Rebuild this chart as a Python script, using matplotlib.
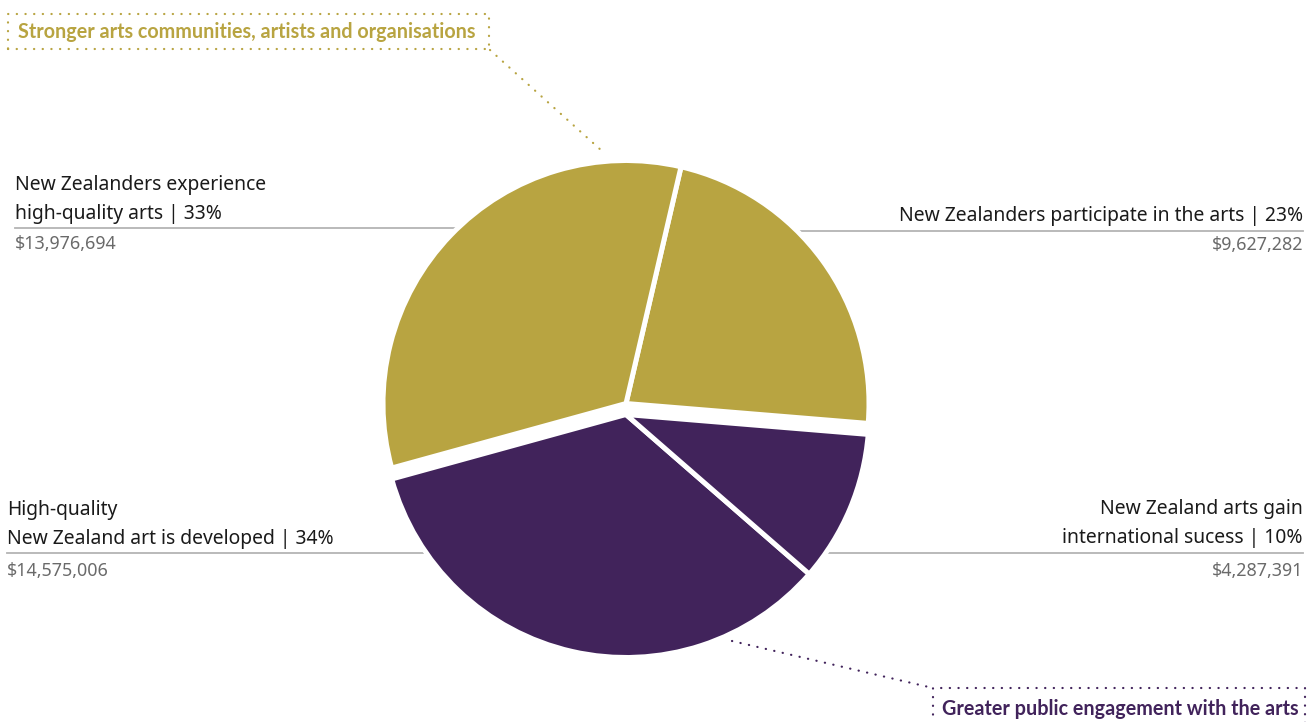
#!/usr/bin/env python3
"""Arts funding by outcome: grouped pie with call-out labels."""

import matplotlib.pyplot as plt
from matplotlib.patches import Rectangle

# Funding by outcome (NZD)
labels = [
    "New Zealanders participate in the arts",
    "New Zealanders experience\nhigh-quality arts",
    "High-quality\nNew Zealand art is developed",
    "New Zealand arts gain\ninternational sucess",
]
amounts = [9627282, 13976694, 14575006, 4287391]
groups = ["Stronger arts communities, artists and organisations",
          "Greater public engagement with the arts"]
group_members = [[0, 1], [2, 3]]

GOLD = "#B8A441"
PURPLE = "#41235B"
TEXT = "#1a1a1a"
MUTED = "#6a6a6a"
RULE = "#b4b4b4"

W, H = 1307, 722
plt.rcParams["font.family"] = ["Noto Sans", "DejaVu Sans"]

fig = plt.figure(figsize=(W / 100, H / 100), dpi=100)
ax = fig.add_axes([0, 0, 1, 1])


def Y(y):
    # layout measured from the top edge
    return H - y


total = sum(amounts)
fracs = [a / total for a in amounts]

cx, cy, radius = 626, 409, 243
shift = 5.5
start = -4.7

# rules under the pie, the pie covers their inner ends
rules = [(15, 600, 228), (650, 1303, 231), (7, 600, 553), (650, 1303, 553)]
for x0, x1, y in rules:
    ax.plot([x0, x1], [Y(y), Y(y)], color=RULE, lw=1.3, zorder=1)

# two pies, one per group, nudged apart
angle = start
for members, color, dy in zip(group_members, [GOLD, PURPLE], [-shift, shift]):
    part = [fracs[i] for i in members]
    ax.pie(part, startangle=angle, normalize=False, radius=radius,
           center=(cx, Y(cy + dy)), colors=[color] * len(part),
           wedgeprops=dict(edgecolor="white", linewidth=3.6), frame=True)
    angle += 360 * sum(part)

ax.set_xlim(0, W)
ax.set_ylim(0, H)
ax.set_aspect("equal")
ax.axis("off")

fs_label = 13.9
fs_amt = 12.9


def pct(i):
    return f" | {round(fracs[i] * 100):d}%"


def amt(i):
    return f"${amounts[i]:,}"


# label placements: x, anchor, y of last title line, y of amount
spots = [(1303, "right", 221, 245), (15, "left", 219, 244),
         (7, "left", 544, 571), (1303, "right", 543, 571)]
for i, (x, ha, ty, ay) in enumerate(spots):
    ax.text(x, Y(ty), labels[i] + pct(i), ha=ha, va="baseline",
            fontsize=fs_label, color=TEXT, linespacing=1.6,
            multialignment=ha)
    ax.text(x, Y(ay), amt(i), ha=ha, va="center", fontsize=fs_amt,
            color=MUTED)

dots = dict(linestyle=(0, (0.1, 3.8)), dash_capstyle="round", lw=1.6)

# group boxes
boxes = [(8, 14, 481, 35, GOLD, 18), (933, 688, 372, 40, PURPLE, 942)]
for (bx, by, bw, bh, color, tx), name in zip(boxes, groups):
    ax.add_patch(Rectangle((bx, Y(by + bh)), bw, bh, fill=False,
                           edgecolor=color, linestyle=(0, (0.1, 3.8)),
                           capstyle="round", lw=1.6, zorder=3))
    ax.text(tx, Y(by + bh / 2 + 1), name, ha="left", va="center",
            fontsize=14.2, fontweight="bold", color=color,
            family=["Lato", "DejaVu Sans"])

# leaders from boxes to the pie
ax.plot([490, 602], [Y(50), Y(151)], color=GOLD, **dots)
ax.plot([732, 933], [Y(641), Y(688)], color=PURPLE, **dots)

fig.savefig("out.png", dpi=100)
